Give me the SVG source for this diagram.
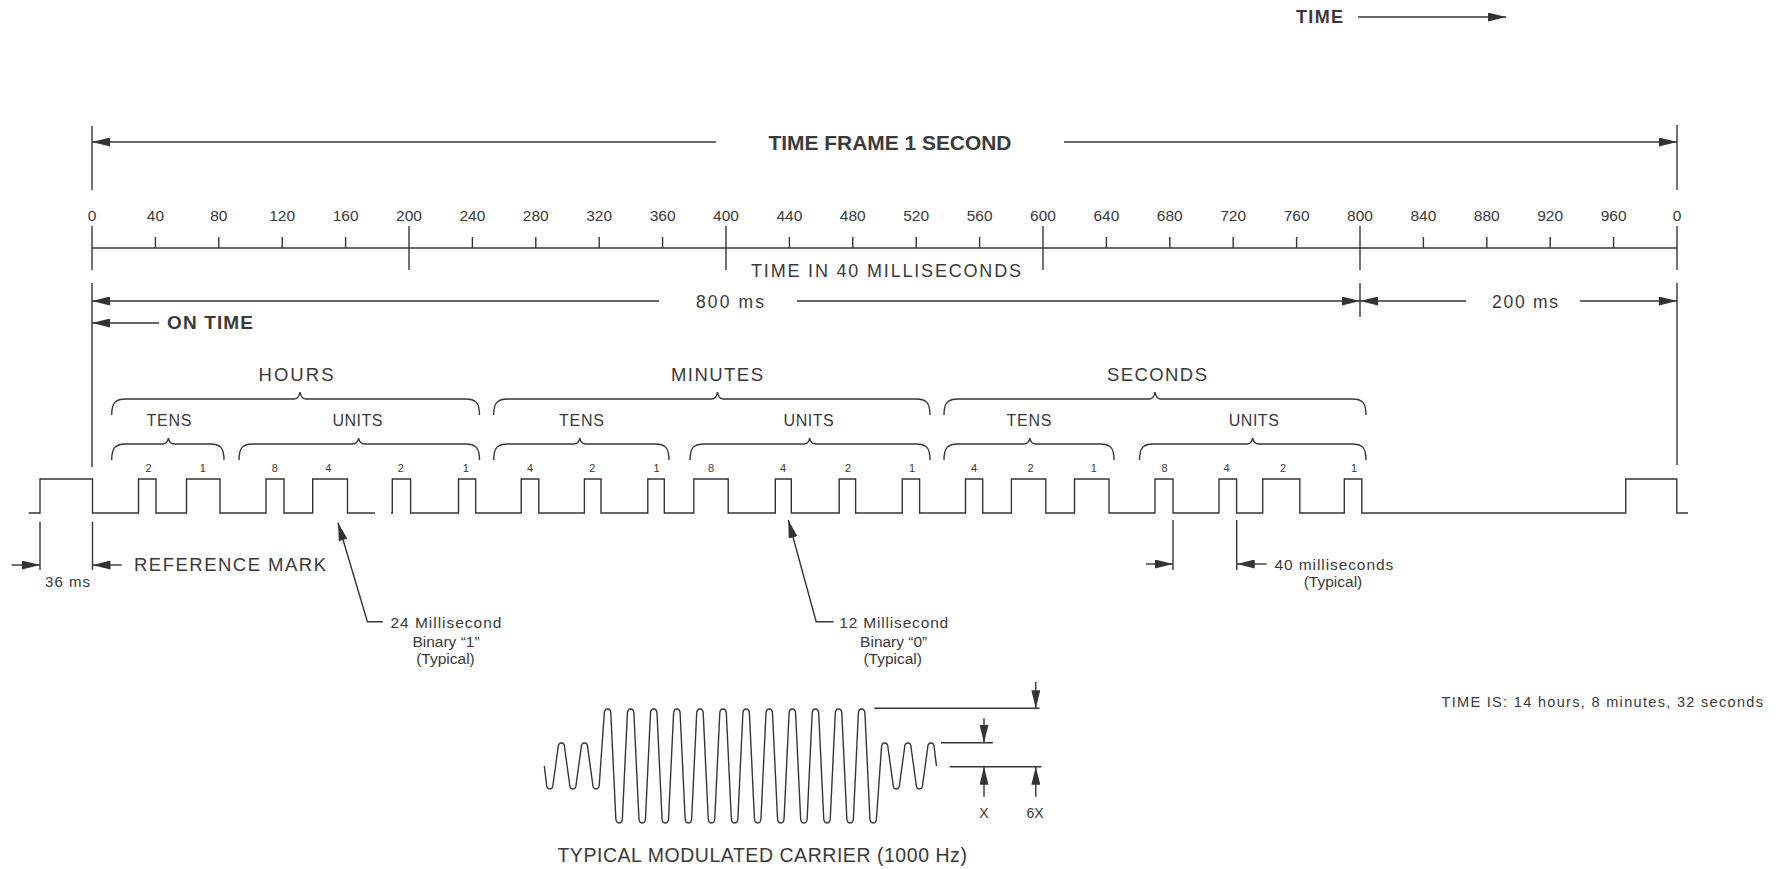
<svg xmlns="http://www.w3.org/2000/svg" width="1784" height="869" viewBox="0 0 1784 869">
<style>
  .ln{stroke:#363636;stroke-width:1.4;fill:none}
  .t{font-family:"Liberation Sans",Arial,sans-serif;fill:#3a3a3a}
  .b{font-weight:bold}
  .c{text-anchor:middle}
  .tick{font-size:15.5px}
  .bit{font-size:11px}
  .grp{font-size:18.5px}
  .sub{font-size:16px}
  .note{font-size:15.5px}
  .arr{marker-end:url(#ah)}
  .arrs{marker-start:url(#ah)}
</style>
<defs>
  <marker id="ah" viewBox="0 0 18 9" refX="18" refY="4.5" markerWidth="18" markerHeight="9" markerUnits="userSpaceOnUse" orient="auto-start-reverse">
    <path d="M0,0 L18,4.5 L0,9 z" fill="#333"/>
  </marker>
</defs>
<rect width="1784" height="869" fill="#fff"/>

<g id="time-direction">
  <text class="t b" x="1296" y="23.3" font-size="18" textLength="47">TIME</text>
</g>

<g id="time-frame">
  <text class="t b c" x="890" y="150" font-size="20" textLength="243" lengthAdjust="spacingAndGlyphs">TIME FRAME 1 SECOND</text>
</g>

<g id="scale">
  <path class="ln" d="M92,248 H1677"/>
  <path class="ln" d="M92,226 V270 M409,226 V270 M726,226 V270 M1043,226 V270 M1360,226 V270 M1677,226 V270"/>
  <path class="ln" d="M155.4,237 V248 M218.8,237 V248 M282.2,237 V248 M345.6,237 V248 M472.4,237 V248 M535.8,237 V248 M599.2,237 V248 M662.6,237 V248 M789.4,237 V248 M852.8,237 V248 M916.2,237 V248 M979.6,237 V248 M1106.4,237 V248 M1169.8,237 V248 M1233.2,237 V248 M1296.6,237 V248 M1423.4,237 V248 M1486.8,237 V248 M1550.2,237 V248 M1613.6,237 V248"/>
  <g class="t c tick">
    <text x="92" y="221">0</text><text x="155.4" y="221">40</text><text x="218.8" y="221">80</text>
    <text x="282.2" y="221">120</text><text x="345.6" y="221">160</text><text x="409" y="221">200</text>
    <text x="472.4" y="221">240</text><text x="535.8" y="221">280</text><text x="599.2" y="221">320</text>
    <text x="662.6" y="221">360</text><text x="726" y="221">400</text><text x="789.4" y="221">440</text>
    <text x="852.8" y="221">480</text><text x="916.2" y="221">520</text><text x="979.6" y="221">560</text>
    <text x="1043" y="221">600</text><text x="1106.4" y="221">640</text><text x="1169.8" y="221">680</text>
    <text x="1233.2" y="221">720</text><text x="1296.6" y="221">760</text><text x="1360" y="221">800</text>
    <text x="1423.4" y="221">840</text><text x="1486.8" y="221">880</text><text x="1550.2" y="221">920</text>
    <text x="1613.6" y="221">960</text><text x="1677" y="221">0</text>
  </g>
  <text class="t" x="751" y="276.7" font-size="18" textLength="270">TIME IN 40 MILLISECONDS</text>
</g>

<g id="durations">
  <text class="t" x="696" y="307.5" font-size="17.5" textLength="68">800 ms</text>
  <text class="t" x="1492" y="307.5" font-size="17.5" textLength="66">200 ms</text>
  <text class="t b" x="167" y="329.3" font-size="19" textLength="86">ON TIME</text>
</g>

<g id="hours">
  <text class="t c grp" x="296" y="381" textLength="75">HOURS</text>
  <path class="ln" d="M111.7,415 C111.7,402 116,399 125.7,399 L294,399 Q299,399 300,392 Q301,399 306,399 L465.5,399 C475.2,399 479.5,402 479.5,415"/>
  <text class="t c sub" x="169" y="426" textLength="45">TENS</text>
  <path class="ln" d="M111.7,460 C111.7,447 116,444 125.7,444 L162.4,444 Q167.4,444 168.4,438 Q169.4,444 174.4,444 L210,444 C219.7,444 224,447 224,460"/>
  <text class="t c sub" x="357.5" y="426" textLength="50">UNITS</text>
  <path class="ln" d="M239,460 C239,447 243.3,444 253,444 L352.6,444 Q357.6,444 358.6,438 Q359.6,444 364.6,444 L465.5,444 C475.2,444 479.5,447 479.5,460"/>
  <g class="t c bit">
    <text x="148.5" y="472">2</text><text x="202.8" y="472">1</text><text x="274.8" y="472">8</text>
    <text x="328.4" y="472">4</text><text x="400.7" y="472">2</text><text x="465.7" y="472">1</text>
  </g>
</g>

<g id="minutes">
  <text class="t c grp" x="717" y="381" textLength="92">MINUTES</text>
  <path class="ln" d="M493.7,415 C493.7,402 498,399 507.7,399 L711.5,399 Q716.5,399 717.5,392 Q718.5,399 723.5,399 L916,399 C925.7,399 930,402 930,415"/>
  <text class="t c sub" x="581.5" y="426" textLength="45">TENS</text>
  <path class="ln" d="M493.7,460 C493.7,447 498,444 507.7,444 L573.8,444 Q578.8,444 579.8,438 Q580.8,444 585.8,444 L655,444 C664.7,444 669,447 669,460"/>
  <text class="t c sub" x="808.6" y="426" textLength="50">UNITS</text>
  <path class="ln" d="M690,460 C690,447 694.3,444 704,444 L803.7,444 Q808.7,444 809.7,438 Q810.7,444 815.7,444 L916,444 C925.7,444 930,447 930,460"/>
  <g class="t c bit">
    <text x="530" y="472">4</text><text x="592.4" y="472">2</text><text x="656.6" y="472">1</text>
    <text x="711" y="472">8</text><text x="783" y="472">4</text><text x="848" y="472">2</text><text x="912" y="472">1</text>
  </g>
</g>

<g id="seconds">
  <text class="t c grp" x="1157" y="381" textLength="100">SECONDS</text>
  <path class="ln" d="M944,415 C944,402 948.3,399 958,399 L1149,399 Q1154,399 1155,392 Q1156,399 1161,399 L1352,399 C1361.7,399 1366,402 1366,415"/>
  <text class="t c sub" x="1029" y="426" textLength="45">TENS</text>
  <path class="ln" d="M944,460 C944,447 948.3,444 958,444 L1023.8,444 Q1028.8,444 1029.8,438 Q1030.8,444 1035.8,444 L1100,444 C1109.7,444 1114,447 1114,460"/>
  <text class="t c sub" x="1253.8" y="426" textLength="50">UNITS</text>
  <path class="ln" d="M1139.5,460 C1139.5,447 1143.8,444 1153.5,444 L1246.7,444 Q1251.7,444 1252.7,438 Q1253.7,444 1258.7,444 L1352,444 C1361.7,444 1366,447 1366,460"/>
  <g class="t c bit">
    <text x="974" y="472">4</text><text x="1030.5" y="472">2</text><text x="1093.7" y="472">1</text>
    <text x="1164.5" y="472">8</text><text x="1226.5" y="472">4</text><text x="1283" y="472">2</text><text x="1354" y="472">1</text>
  </g>
</g>

<g id="pulse-train">
  <path class="ln" d="M28.7,513 H40 V479 H92.5 V513 H138.5 V479 H156 V513 H186.5 V479 H220 V513 H266 V479 H284 V513 H312.7 V479 H347.5 V513 H375 M391,513 H392.3 V479 H410.6 V513 H458.5 V479 H475.7 V513 H521.2 V479 H538.8 V513 H584.4 V479 H601 V513 H647.8 V479 H664.3 V513 H693.8 V479 H728.2 V513 H775.3 V479 H791.3 V513 H839.2 V479 H855.6 V513 H902.3 V479 H919.6 V513 H965.5 V479 H982.7 V513 H1011.4 V479 H1045.8 V513 H1074.5 V479 H1109 V513 H1155 V479 H1173 V513 H1219 V479 H1236.6 V513 H1262.7 V479 H1299.8 V513 H1344.3 V479 H1361.8 V513 H1625.7 V479 H1676.8 V513 H1688"/>
</g>

<g id="reference-mark">
  <text class="t" x="134" y="570.7" font-size="18.5" textLength="192">REFERENCE MARK</text>
  <text class="t" x="45" y="586.7" font-size="15" textLength="45">36 ms</text>
</g>

<g id="binary-one-note">
  <text class="t note" x="390.4" y="628.3" textLength="111">24 Millisecond</text>
  <text class="t note c" x="446" y="646.5">Binary “1”</text>
  <text class="t note c" x="445.5" y="664">(Typical)</text>
</g>

<g id="binary-zero-note">
  <text class="t note" x="839.2" y="628.3" textLength="109">12 Millisecond</text>
  <text class="t note c" x="893.7" y="646.5">Binary “0”</text>
  <text class="t note c" x="892.7" y="664">(Typical)</text>
</g>

<g id="bit-spacing-note">
  <text class="t note" x="1274.5" y="570" textLength="118.7">40 milliseconds</text>
  <text class="t note c" x="1333" y="587.3">(Typical)</text>
</g>

<g id="time-readout">
  <text class="t" x="1441.5" y="706.7" font-size="14.5" textLength="321.5">TIME IS: 14 hours, 8 minutes, 32 seconds</text>
</g>

<g id="carrier">
  <path class="ln" stroke-width="1.3" d="M544.3,766 L546.5,784
    c0,6.67 6.6,6.67 6.6,0
    l4.95,-36 c0,-6.67 6.6,-6.67 6.6,0
    l4.95,36 c0,6.67 6.6,6.67 6.6,0
    l4.95,-36 c0,-6.67 6.6,-6.67 6.6,0
    l4.95,36 c0,6.67 6.6,6.67 6.6,0
    l4.95,-70 c0,-6.67 6.6,-6.67 6.6,0
    l4.95,104 c0,6.67 6.6,6.67 6.6,0 l4.95,-104 c0,-6.67 6.6,-6.67 6.6,0
    l4.95,104 c0,6.67 6.6,6.67 6.6,0 l4.95,-104 c0,-6.67 6.6,-6.67 6.6,0
    l4.95,104 c0,6.67 6.6,6.67 6.6,0 l4.95,-104 c0,-6.67 6.6,-6.67 6.6,0
    l4.95,104 c0,6.67 6.6,6.67 6.6,0 l4.95,-104 c0,-6.67 6.6,-6.67 6.6,0
    l4.95,104 c0,6.67 6.6,6.67 6.6,0 l4.95,-104 c0,-6.67 6.6,-6.67 6.6,0
    l4.95,104 c0,6.67 6.6,6.67 6.6,0 l4.95,-104 c0,-6.67 6.6,-6.67 6.6,0
    l4.95,104 c0,6.67 6.6,6.67 6.6,0 l4.95,-104 c0,-6.67 6.6,-6.67 6.6,0
    l4.95,104 c0,6.67 6.6,6.67 6.6,0 l4.95,-104 c0,-6.67 6.6,-6.67 6.6,0
    l4.95,104 c0,6.67 6.6,6.67 6.6,0 l4.95,-104 c0,-6.67 6.6,-6.67 6.6,0
    l4.95,104 c0,6.67 6.6,6.67 6.6,0 l4.95,-104 c0,-6.67 6.6,-6.67 6.6,0
    l4.95,104 c0,6.67 6.6,6.67 6.6,0 l4.95,-104 c0,-6.67 6.6,-6.67 6.6,0
    l4.95,104 c0,6.67 6.6,6.67 6.6,0
    l4.95,-70 c0,-6.67 6.6,-6.67 6.6,0
    l4.95,36 c0,6.67 6.6,6.67 6.6,0
    l4.95,-36 c0,-6.67 6.6,-6.67 6.6,0
    l4.95,36 c0,6.67 6.6,6.67 6.6,0
    l4.95,-36 c0,-6.67 6.6,-6.67 6.6,0
    l2.2,18"/>
  <text class="t c" x="984" y="818.3" font-size="14">X</text>
  <text class="t c" x="1035" y="818.3" font-size="14">6X</text>
  <text class="t" x="557.4" y="861.7" font-size="19.5" textLength="409.5">TYPICAL MODULATED CARRIER (1000 Hz)</text>
</g>

<g id="connectors">
  <path class="ln arr" d="M1358,17 H1506"/>
  <path class="ln" d="M92,126 V190 M1677,125 V190"/>
  <path class="ln arrs" d="M92,142 H716"/>
  <path class="ln arr" d="M1064,142 H1677"/>
  <path class="ln" d="M92,283 V467 M1360,283 V317 M1677,283 V465"/>
  <path class="ln arrs" d="M92,301 H659"/>
  <path class="ln arr" d="M797,301 H1360"/>
  <path class="ln arrs" d="M1360,301 H1466"/>
  <path class="ln arr" d="M1580,301 H1677"/>
  <path class="ln arrs" d="M92,323 H159"/>
  <path class="ln" d="M40,521.7 V570 M92.5,521.7 V570"/>
  <path class="ln arr" d="M11.5,565 H40"/>
  <path class="ln arrs" d="M92.5,565 H121.7"/>
  <path class="ln arrs" d="M338,522.7 L367.4,621.7 H382.7"/>
  <path class="ln arrs" d="M788.3,520 L816.2,621.7 H833.4"/>
  <path class="ln" d="M1173,520 V570 M1236.7,520 V570"/>
  <path class="ln arr" d="M1146,564 H1173"/>
  <path class="ln arrs" d="M1236.7,564 H1266.7"/>
  <path class="ln" d="M874.3,708.3 H1039.6 M940.9,742.7 H992.9 M949.7,766.7 H1041.5"/>
  <path class="ln arr" d="M1035.8,681.7 V708.3"/>
  <path class="ln arr" d="M984,718.3 V742.7"/>
  <path class="ln arr" d="M984,796.7 V766.7"/>
  <path class="ln arr" d="M1035.8,796.7 V766.7"/>
</g>
</svg>
